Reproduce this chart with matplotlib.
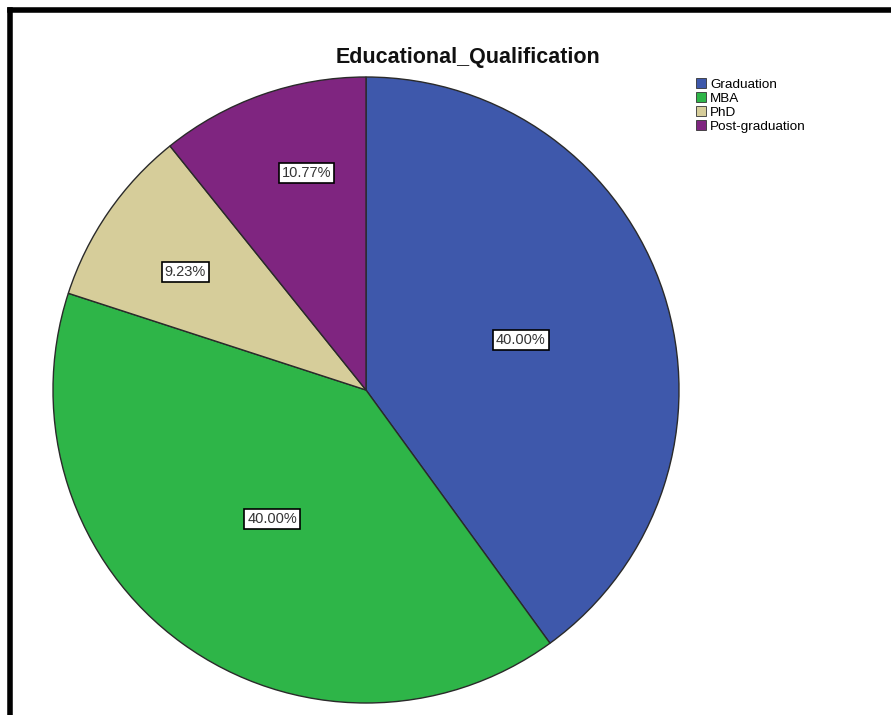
import numpy as np
import matplotlib.pyplot as plt
from matplotlib.lines import Line2D

plt.rcParams['font.family'] = ['Liberation Sans', 'DejaVu Sans']

categories = ['Graduation', 'MBA', 'PhD', 'Post-graduation']
counts = [26, 26, 6, 7]
pct_labels = ['40.00%', '40.00%', '9.23%', '10.77%']
colors = ['#3E58AB', '#2EB548', '#D6CD9A', '#7F2580']
label_dist = [0.52, 0.51, 0.69, 0.72]
label_turn = [0, 0, 1.5, -4]   # degrees, nudges SPSS-style label placement

W, H = 891, 715
cx, cy, r = 366, 390, 313

fig = plt.figure(figsize=(W / 100, H / 100), dpi=100)
ax = fig.add_axes([0, 0, 1, 1])

wedges, _ = ax.pie(counts, colors=colors, startangle=90, counterclock=False,
                   radius=1, wedgeprops=dict(edgecolor='#2a2a2a', linewidth=1.0))

for w, lab, d, t in zip(wedges, pct_labels, label_dist, label_turn):
    mid = np.deg2rad((w.theta1 + w.theta2) / 2 + t)
    ax.text(d * np.cos(mid), d * np.sin(mid), lab, ha='center', va='center',
            fontsize=10.5, color='#333333',
            bbox=dict(boxstyle='square,pad=0.2', fc='white', ec='black', lw=1.2))

ax.set_aspect('auto')
ax.set_xlim(-cx / r, (W - cx) / r)
ax.set_ylim(-(H - cy) / r, cy / r)
ax.axis('off')

fig.text(468 / W, 1 - 57 / H, 'Educational_Qualification', ha='center', va='center',
         fontsize=15.5, fontweight='bold', color='#111111')

leg = fig.legend(wedges, categories, loc='upper left',
                 bbox_to_anchor=(696 / W, 1 - 78 / H), frameon=False,
                 fontsize=9.7, handlelength=0.75, handleheight=0.75,
                 handletextpad=0.3, labelspacing=0.1, borderpad=0, borderaxespad=0)
for h in leg.legend_handles:
    h.set_linewidth(0.6)
    h.set_edgecolor('#333333')

# black frame (left and top edges)
fig.add_artist(Line2D([9.5 / W, 1], [1 - 10 / H, 1 - 10 / H], transform=fig.transFigure,
                      color='black', lw=4, solid_capstyle='projecting'))
fig.add_artist(Line2D([9.5 / W, 9.5 / W], [1 - 10 / H, 0], transform=fig.transFigure,
                      color='black', lw=4, solid_capstyle='projecting'))

fig.savefig('out.png', dpi=100)
